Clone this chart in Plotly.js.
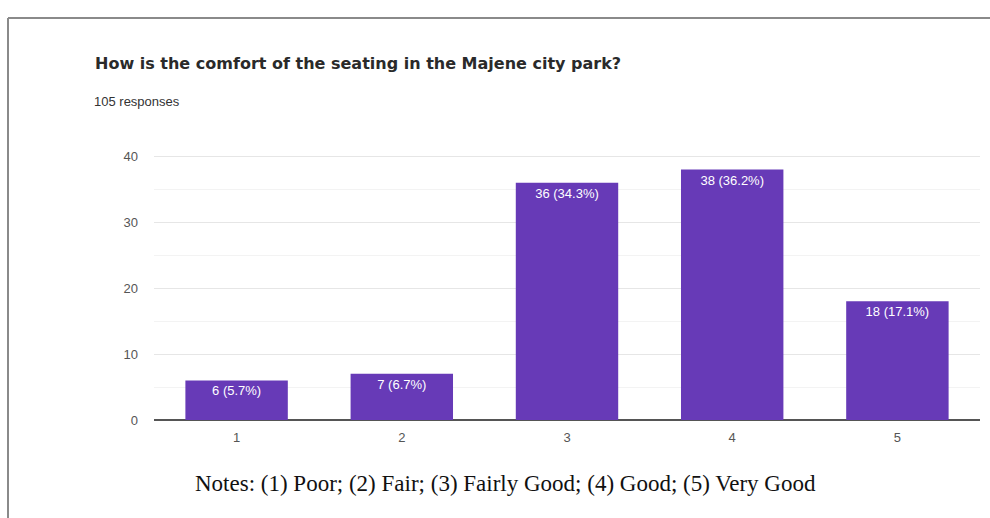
<!DOCTYPE html>
<html>
<head>
<meta charset="utf-8">
<script src="https://cdn.plot.ly/plotly-3.0.1.min.js"></script>
<style>html,body{margin:0;padding:0;background:#fff;}#chart{width:990px;height:518px;}</style>
</head>
<body>
<div id="chart"></div>
<script>
const categories = ["1", "2", "3", "4", "5"];
const counts = [6, 7, 36, 38, 18];
const percents = ["5.7%", "6.7%", "34.3%", "36.2%", "17.1%"];
const yTicks = [0, 10, 20, 30, 40];
const chartTitle = "How is the comfort of the seating in the Majene city park?";
const responsesText = "105 responses";
const notesText = "Notes: (1) Poor; (2) Fair; (3) Fairly Good; (4) Good; (5) Very Good";

const labels = counts.map((c, i) => c + " (" + percents[i] + ")");

const trace = {
  type: "bar",
  x: categories,
  y: counts,
  text: labels,
  textposition: "inside",
  insidetextanchor: "end",
  textangle: 0,
  textfont: {family: "Liberation Sans, Arial, sans-serif", size: 13, color: "#ffffff"},
  marker: {color: "#673ab7"},
  hoverinfo: "none",
  cliponaxis: false
};

const L = 154, R = 10, T = 155, B = 98;
const W = 990, H = 518;
const pw = W - L - R, ph = H - T - B;
const px = v => (v - L) / pw;
const py = v => (H - B - v) / ph;

const layout = {
  width: W, height: H,
  margin: {l: L, r: R, t: T, b: B},
  paper_bgcolor: "#ffffff",
  plot_bgcolor: "#ffffff",
  showlegend: false,
  bargap: 0.38,
  title: {
    text: "<b>" + chartTitle + "</b>",
    x: 95 / W, xanchor: "left", xref: "container",
    y: 1 - 63 / H, yanchor: "middle", yref: "container",
    font: {family: "DejaVu Sans, sans-serif", size: 16, color: "#2a2a2a"}
  },
  xaxis: {
    type: "category",
    tickfont: {family: "Liberation Sans, Arial, sans-serif", size: 13, color: "#555555"},
    showgrid: false, showline: false, ticks: "",
    ticklabelstandoff: 8,
    fixedrange: true
  },
  yaxis: {
    range: [0, 40.2],
    tickvals: yTicks,
    tickfont: {family: "Liberation Sans, Arial, sans-serif", size: 13, color: "#555555"},
    showgrid: true, gridcolor: "#e6e6e6", gridwidth: 1,
    minor: {dtick: 5, showgrid: true, gridcolor: "#f3f3f3", gridwidth: 1},
    zeroline: true, zerolinecolor: "#555555", zerolinewidth: 1.5,
    ticks: "", ticklabelstandoff: 15,
    fixedrange: true
  },
  annotations: [
    {
      text: responsesText, xref: "paper", yref: "paper",
      x: px(92), y: py(101), xanchor: "left", yanchor: "middle", showarrow: false,
      font: {family: "Liberation Sans Narrow, Arial Narrow, sans-serif", size: 13, color: "#333333"}
    },
    {
      text: notesText, xref: "paper", yref: "paper",
      x: px(505), y: py(483), xanchor: "center", yanchor: "middle", showarrow: false,
      font: {family: "Liberation Serif, Times New Roman, serif", size: 23, color: "#111111"}
    }
  ],
  shapes: [
    {type: "line", xref: "paper", yref: "paper", x0: px(8), x1: px(8), y0: py(18), y1: py(530), line: {color: "#8a8a8a", width: 2}},
    {type: "line", xref: "paper", yref: "paper", x0: px(8), x1: px(1000), y0: py(18), y1: py(18), line: {color: "#8a8a8a", width: 2}}
  ]
};

Plotly.newPlot("chart", [trace], layout, {displayModeBar: false, staticPlot: true});
</script>
</body>
</html>
